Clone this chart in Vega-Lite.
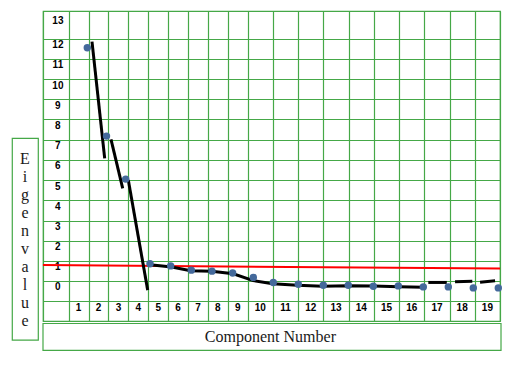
{
  "$schema": "https://vega.github.io/schema/vega-lite/v6.json",
  "width": 457,
  "height": 310,
  "autosize": {"type": "none"},
  "padding": {"left": 43, "top": 11, "right": 17, "bottom": 48},
  "background": "white",
  "config": {"view": {"stroke": "#45A847", "strokeWidth": 1.2}},
  "datasets": {
    "eigen": [
      {"component": 1, "eigenvalue": 11.88},
      {"component": 2, "eigenvalue": 7.5},
      {"component": 3, "eigenvalue": 5.37},
      {"component": 4, "eigenvalue": 1.18},
      {"component": 5, "eigenvalue": 1.07},
      {"component": 6, "eigenvalue": 0.86},
      {"component": 7, "eigenvalue": 0.81},
      {"component": 8, "eigenvalue": 0.72},
      {"component": 9, "eigenvalue": 0.5},
      {"component": 10, "eigenvalue": 0.25},
      {"component": 11, "eigenvalue": 0.16},
      {"component": 12, "eigenvalue": 0.11},
      {"component": 13, "eigenvalue": 0.11},
      {"component": 14, "eigenvalue": 0.06},
      {"component": 15, "eigenvalue": 0.08},
      {"component": 16, "eigenvalue": 0.03},
      {"component": 17, "eigenvalue": 0.03},
      {"component": 18, "eigenvalue": -0.02},
      {"component": 19, "eigenvalue": -0.02}
    ],
    "trace": [
      {"segment": "A", "component": 1.245, "eigenvalue": 12.18},
      {"segment": "A", "component": 1.906, "eigenvalue": 6.4},
      {"segment": "B", "component": 2.234, "eigenvalue": 7.34},
      {"segment": "B", "component": 2.844, "eigenvalue": 4.91},
      {"segment": "C", "component": 3.107, "eigenvalue": 5.32},
      {"segment": "C", "component": 3.905, "eigenvalue": -0.13},
      {"segment": "D", "component": 4.0, "eigenvalue": 1.13},
      {"segment": "D", "component": 5.05, "eigenvalue": 1.01},
      {"segment": "D", "component": 5.97, "eigenvalue": 0.83},
      {"segment": "D", "component": 6.99, "eigenvalue": 0.81},
      {"segment": "D", "component": 8.03, "eigenvalue": 0.68},
      {"segment": "D", "component": 9.0, "eigenvalue": 0.34},
      {"segment": "D", "component": 9.97, "eigenvalue": 0.19},
      {"segment": "D", "component": 10.96, "eigenvalue": 0.11},
      {"segment": "D", "component": 11.98, "eigenvalue": 0.06},
      {"segment": "D", "component": 12.99, "eigenvalue": 0.09},
      {"segment": "D", "component": 14.0, "eigenvalue": 0.07},
      {"segment": "D", "component": 15.03, "eigenvalue": 0.04},
      {"segment": "D", "component": 16.0, "eigenvalue": 0.01},
      {"segment": "E", "component": 16.2, "eigenvalue": 0.25},
      {"segment": "E", "component": 16.94, "eigenvalue": 0.25},
      {"segment": "F", "component": 17.27, "eigenvalue": 0.28},
      {"segment": "F", "component": 17.96, "eigenvalue": 0.31},
      {"segment": "G", "component": 18.27, "eigenvalue": 0.26},
      {"segment": "G", "component": 18.87, "eigenvalue": 0.33}
    ],
    "cutoff": [
      {"component": -1.31, "eigenvalue": 1.11},
      {"component": 19.07, "eigenvalue": 0.94}
    ],
    "ylabels": [
      {"label": "0", "value": 0}, {"label": "1", "value": 1}, {"label": "2", "value": 2},
      {"label": "3", "value": 3}, {"label": "4", "value": 4}, {"label": "5", "value": 5},
      {"label": "6", "value": 6}, {"label": "7", "value": 7}, {"label": "8", "value": 8},
      {"label": "9", "value": 9}, {"label": "10", "value": 10}, {"label": "11", "value": 11},
      {"label": "12", "value": 12}, {"label": "13", "value": 13}
    ],
    "xlabels": [
      {"label": "1", "component": 1}, {"label": "2", "component": 2}, {"label": "3", "component": 3},
      {"label": "4", "component": 4}, {"label": "5", "component": 5}, {"label": "6", "component": 6},
      {"label": "7", "component": 7}, {"label": "8", "component": 8}, {"label": "9", "component": 9},
      {"label": "10", "component": 10}, {"label": "11", "component": 11}, {"label": "12", "component": 12},
      {"label": "13", "component": 13}, {"label": "14", "component": 14}, {"label": "15", "component": 15},
      {"label": "16", "component": 16}, {"label": "17", "component": 17}, {"label": "18", "component": 18},
      {"label": "19", "component": 19}
    ]
  },
  "resolve": {"scale": {"x": "independent"}},
  "layer": [
    {
      "layer": [
        {
          "data": {"name": "ylabels"},
          "mark": {"type": "text", "font": "Liberation Sans", "fontWeight": "bold", "fontSize": 10, "align": "center", "baseline": "middle", "color": "black"},
          "encoding": {
            "x": {"datum": -0.42, "type": "quantitative", "scale": {"domain": [-1, 0, 9, 19], "range": [0, 25.7, 204.7, 457], "nice": false, "zero": false}, "axis": {"values": [-1, 0, 1, 2, 3, 4, 5, 6, 7, 8, 9, 10, 11, 12, 13, 14, 15, 16, 17, 18, 19], "grid": true, "gridColor": "#45A847", "gridWidth": 1.2, "gridOpacity": 1, "labels": false, "ticks": false, "domain": false, "title": null}},
            "y": {"field": "value", "type": "quantitative", "scale": {"domain": [-1.66, 12.3, 13, 13.68], "range": [310, 28.2, 9.7, 0], "nice": false, "zero": false}, "axis": {"values": [-1.66, -0.68, 0.31, 1.3, 2.3, 3.3, 4.33, 5.32, 6.3, 7.29, 8.33, 9.32, 10.31, 11.3, 12.3, 13.68], "grid": true, "gridColor": "#45A847", "gridWidth": 1.2, "gridOpacity": 1, "labels": false, "ticks": false, "domain": false, "title": null}},
            "text": {"field": "label"}
          }
        },
        {
          "data": {"name": "xlabels"},
          "transform": [{"filter": "datum.component <= 9"}],
          "mark": {"type": "text", "font": "Liberation Sans", "fontWeight": "bold", "fontSize": 10, "align": "center", "baseline": "middle", "color": "black", "dx": -9.95},
          "encoding": {
            "x": {"field": "component", "type": "quantitative", "scale": {"domain": [-1, 0, 9, 19], "range": [0, 25.7, 204.7, 457], "nice": false, "zero": false}, "axis": {"values": [-1, 0, 1, 2, 3, 4, 5, 6, 7, 8, 9, 10, 11, 12, 13, 14, 15, 16, 17, 18, 19], "grid": true, "gridColor": "#45A847", "gridWidth": 1.2, "gridOpacity": 1, "labels": false, "ticks": false, "domain": false, "title": null}},
            "y": {"datum": -1.0, "type": "quantitative", "scale": {"domain": [-1.66, 12.3, 13, 13.68], "range": [310, 28.2, 9.7, 0], "nice": false, "zero": false}, "axis": {"values": [-1.66, -0.68, 0.31, 1.3, 2.3, 3.3, 4.33, 5.32, 6.3, 7.29, 8.33, 9.32, 10.31, 11.3, 12.3, 13.68], "grid": true, "gridColor": "#45A847", "gridWidth": 1.2, "gridOpacity": 1, "labels": false, "ticks": false, "domain": false, "title": null}},
            "text": {"field": "label"}
          }
        },
        {
          "data": {"name": "xlabels"},
          "transform": [{"filter": "datum.component > 9"}],
          "mark": {"type": "text", "font": "Liberation Sans", "fontWeight": "bold", "fontSize": 10, "align": "center", "baseline": "middle", "color": "black", "dx": -12.6},
          "encoding": {
            "x": {"field": "component", "type": "quantitative", "scale": {"domain": [-1, 0, 9, 19], "range": [0, 25.7, 204.7, 457], "nice": false, "zero": false}, "axis": {"values": [-1, 0, 1, 2, 3, 4, 5, 6, 7, 8, 9, 10, 11, 12, 13, 14, 15, 16, 17, 18, 19], "grid": true, "gridColor": "#45A847", "gridWidth": 1.2, "gridOpacity": 1, "labels": false, "ticks": false, "domain": false, "title": null}},
            "y": {"datum": -1.0, "type": "quantitative", "scale": {"domain": [-1.66, 12.3, 13, 13.68], "range": [310, 28.2, 9.7, 0], "nice": false, "zero": false}, "axis": {"values": [-1.66, -0.68, 0.31, 1.3, 2.3, 3.3, 4.33, 5.32, 6.3, 7.29, 8.33, 9.32, 10.31, 11.3, 12.3, 13.68], "grid": true, "gridColor": "#45A847", "gridWidth": 1.2, "gridOpacity": 1, "labels": false, "ticks": false, "domain": false, "title": null}},
            "text": {"field": "label"}
          }
        },
        {
          "data": {"values": [{"t": "Component Number"}]},
          "layer": [
            {
              "mark": {"type": "rect", "fill": "white", "stroke": "#45A847", "strokeWidth": 1.2},
              "encoding": {
                "x": {"datum": -1, "type": "quantitative", "scale": {"domain": [-1, 0, 9, 19], "range": [0, 25.7, 204.7, 457], "nice": false, "zero": false}, "axis": {"values": [-1, 0, 1, 2, 3, 4, 5, 6, 7, 8, 9, 10, 11, 12, 13, 14, 15, 16, 17, 18, 19], "grid": true, "gridColor": "#45A847", "gridWidth": 1.2, "gridOpacity": 1, "labels": false, "ticks": false, "domain": false, "title": null}},
                "x2": {"datum": 19.04},
                "y": {"datum": -1.785, "type": "quantitative", "scale": {"domain": [-1.66, 12.3, 13, 13.68], "range": [310, 28.2, 9.7, 0], "nice": false, "zero": false}, "axis": {"values": [-1.66, -0.68, 0.31, 1.3, 2.3, 3.3, 4.33, 5.32, 6.3, 7.29, 8.33, 9.32, 10.31, 11.3, 12.3, 13.68], "grid": true, "gridColor": "#45A847", "gridWidth": 1.2, "gridOpacity": 1, "labels": false, "ticks": false, "domain": false, "title": null}},
                "y2": {"datum": -3.12}
              }
            },
            {
              "mark": {"type": "text", "font": "Liberation Serif", "fontSize": 16, "align": "center", "baseline": "middle", "color": "#1a1a1a"},
              "encoding": {
                "x": {"datum": 9.9, "type": "quantitative", "scale": {"domain": [-1, 0, 9, 19], "range": [0, 25.7, 204.7, 457], "nice": false, "zero": false}, "axis": {"values": [-1, 0, 1, 2, 3, 4, 5, 6, 7, 8, 9, 10, 11, 12, 13, 14, 15, 16, 17, 18, 19], "grid": true, "gridColor": "#45A847", "gridWidth": 1.2, "gridOpacity": 1, "labels": false, "ticks": false, "domain": false, "title": null}},
                "y": {"datum": -2.45, "type": "quantitative", "scale": {"domain": [-1.66, 12.3, 13, 13.68], "range": [310, 28.2, 9.7, 0], "nice": false, "zero": false}, "axis": {"values": [-1.66, -0.68, 0.31, 1.3, 2.3, 3.3, 4.33, 5.32, 6.3, 7.29, 8.33, 9.32, 10.31, 11.3, 12.3, 13.68], "grid": true, "gridColor": "#45A847", "gridWidth": 1.2, "gridOpacity": 1, "labels": false, "ticks": false, "domain": false, "title": null}},
                "text": {"field": "t"}
              }
            }
          ]
        },
        {
          "data": {"values": [{"t": "E\ni\ng\ne\nn\nv\na\nl\nu\ne"}]},
          "layer": [
            {
              "mark": {"type": "rect", "fill": "white", "stroke": "#45A847", "strokeWidth": 1.2},
              "encoding": {
                "x": {"datum": -2.195, "type": "quantitative", "scale": {"domain": [-1, 0, 9, 19], "range": [0, 25.7, 204.7, 457], "nice": false, "zero": false}, "axis": {"values": [-1, 0, 1, 2, 3, 4, 5, 6, 7, 8, 9, 10, 11, 12, 13, 14, 15, 16, 17, 18, 19], "grid": true, "gridColor": "#45A847", "gridWidth": 1.2, "gridOpacity": 1, "labels": false, "ticks": false, "domain": false, "title": null}},
                "x2": {"datum": -1.183},
                "y": {"datum": 7.39, "type": "quantitative", "scale": {"domain": [-1.66, 12.3, 13, 13.68], "range": [310, 28.2, 9.7, 0], "nice": false, "zero": false}, "axis": {"values": [-1.66, -0.68, 0.31, 1.3, 2.3, 3.3, 4.33, 5.32, 6.3, 7.29, 8.33, 9.32, 10.31, 11.3, 12.3, 13.68], "grid": true, "gridColor": "#45A847", "gridWidth": 1.2, "gridOpacity": 1, "labels": false, "ticks": false, "domain": false, "title": null}},
                "y2": {"datum": -2.61}
              }
            },
            {
              "mark": {"type": "text", "font": "Liberation Serif", "fontSize": 16, "align": "center", "baseline": "middle", "lineBreak": "\n", "lineHeight": 18, "color": "#1a1a1a"},
              "encoding": {
                "x": {"datum": -1.7, "type": "quantitative", "scale": {"domain": [-1, 0, 9, 19], "range": [0, 25.7, 204.7, 457], "nice": false, "zero": false}, "axis": {"values": [-1, 0, 1, 2, 3, 4, 5, 6, 7, 8, 9, 10, 11, 12, 13, 14, 15, 16, 17, 18, 19], "grid": true, "gridColor": "#45A847", "gridWidth": 1.2, "gridOpacity": 1, "labels": false, "ticks": false, "domain": false, "title": null}},
                "y": {"datum": 6.35, "type": "quantitative", "scale": {"domain": [-1.66, 12.3, 13, 13.68], "range": [310, 28.2, 9.7, 0], "nice": false, "zero": false}, "axis": {"values": [-1.66, -0.68, 0.31, 1.3, 2.3, 3.3, 4.33, 5.32, 6.3, 7.29, 8.33, 9.32, 10.31, 11.3, 12.3, 13.68], "grid": true, "gridColor": "#45A847", "gridWidth": 1.2, "gridOpacity": 1, "labels": false, "ticks": false, "domain": false, "title": null}},
                "text": {"field": "t"}
              }
            }
          ]
        }
      ]
    },
    {
      "layer": [
        {
          "data": {"name": "cutoff"},
          "mark": {"type": "line", "color": "#FF0000", "strokeWidth": 2},
          "encoding": {
            "x": {"field": "component", "type": "quantitative", "scale": {"domain": [1, 3, 4, 9, 10, 19], "range": [44.3, 82.7, 107, 210.3, 230.3, 455.3], "nice": false, "zero": false}, "axis": null},
            "y": {"field": "eigenvalue", "type": "quantitative", "scale": {"domain": [-1.66, 12.3, 13, 13.68], "range": [310, 28.2, 9.7, 0], "nice": false, "zero": false}, "axis": {"values": [-1.66, -0.68, 0.31, 1.3, 2.3, 3.3, 4.33, 5.32, 6.3, 7.29, 8.33, 9.32, 10.31, 11.3, 12.3, 13.68], "grid": true, "gridColor": "#45A847", "gridWidth": 1.2, "gridOpacity": 1, "labels": false, "ticks": false, "domain": false, "title": null}}
          }
        },
        {
          "data": {"name": "trace"},
          "mark": {"type": "line", "color": "black", "strokeWidth": 3},
          "encoding": {
            "x": {"field": "component", "type": "quantitative", "scale": {"domain": [1, 3, 4, 9, 10, 19], "range": [44.3, 82.7, 107, 210.3, 230.3, 455.3], "nice": false, "zero": false}, "axis": null},
            "y": {"field": "eigenvalue", "type": "quantitative", "scale": {"domain": [-1.66, 12.3, 13, 13.68], "range": [310, 28.2, 9.7, 0], "nice": false, "zero": false}, "axis": {"values": [-1.66, -0.68, 0.31, 1.3, 2.3, 3.3, 4.33, 5.32, 6.3, 7.29, 8.33, 9.32, 10.31, 11.3, 12.3, 13.68], "grid": true, "gridColor": "#45A847", "gridWidth": 1.2, "gridOpacity": 1, "labels": false, "ticks": false, "domain": false, "title": null}},
            "detail": {"field": "segment"}
          }
        },
        {
          "data": {"name": "eigen"},
          "mark": {"type": "circle", "color": "#44699B", "opacity": 1, "size": 55},
          "encoding": {
            "x": {"field": "component", "type": "quantitative", "scale": {"domain": [1, 3, 4, 9, 10, 19], "range": [44.3, 82.7, 107, 210.3, 230.3, 455.3], "nice": false, "zero": false}, "axis": null},
            "y": {"field": "eigenvalue", "type": "quantitative", "scale": {"domain": [-1.66, 12.3, 13, 13.68], "range": [310, 28.2, 9.7, 0], "nice": false, "zero": false}, "axis": {"values": [-1.66, -0.68, 0.31, 1.3, 2.3, 3.3, 4.33, 5.32, 6.3, 7.29, 8.33, 9.32, 10.31, 11.3, 12.3, 13.68], "grid": true, "gridColor": "#45A847", "gridWidth": 1.2, "gridOpacity": 1, "labels": false, "ticks": false, "domain": false, "title": null}}
          }
        }
      ]
    }
  ]
}
